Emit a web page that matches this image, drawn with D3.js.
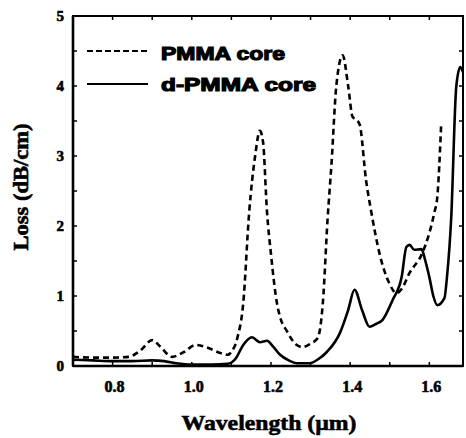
<!DOCTYPE html>
<html><head><meta charset="utf-8">
<script src="https://cdn.jsdelivr.net/npm/d3@7"></script>
<style>body{margin:0;background:#fff}svg{display:block}</style>
</head><body>
<svg id="c" width="466" height="438"></svg>
<script>
// ---- data ----
const pmmaWl   = [0.70,0.75,0.80,0.84,0.87,0.90,0.92,0.95,0.98,1.01,1.04,1.07,1.09,1.10,1.115,1.13,1.145,1.16,1.172,1.18,1.19,1.20,1.215,1.223,1.24,1.265,1.28,1.30,1.318,1.331,1.343,1.353,1.365,1.381,1.395,1.406,1.415,1.424,1.44,1.454,1.474,1.499,1.517,1.53,1.55,1.582,1.60,1.613,1.62,1.63];
const pmmaLoss = [0.13,0.12,0.12,0.13,0.22,0.37,0.28,0.13,0.20,0.30,0.26,0.19,0.16,0.20,0.40,0.90,2.20,3.00,3.36,3.20,2.20,1.60,0.90,0.70,0.50,0.30,0.27,0.32,0.40,0.90,2.10,2.90,4.00,4.44,4.00,3.56,3.52,3.45,2.66,2.18,1.61,1.18,1.04,1.10,1.33,1.61,1.90,2.20,2.41,3.47];
const dWl   = [0.70,0.75,0.80,0.85,0.90,0.93,0.96,1.00,1.05,1.09,1.11,1.13,1.152,1.172,1.19,1.205,1.223,1.245,1.265,1.298,1.32,1.341,1.374,1.395,1.411,1.43,1.449,1.465,1.482,1.507,1.53,1.542,1.55,1.562,1.58,1.59,1.60,1.61,1.62,1.638,1.645,1.655,1.668,1.678,1.685];
const dLoss = [0.09,0.08,0.07,0.07,0.08,0.07,0.04,0.02,0.02,0.03,0.10,0.30,0.41,0.34,0.36,0.28,0.16,0.08,0.04,0.04,0.10,0.20,0.47,0.80,1.09,0.80,0.56,0.60,0.66,0.94,1.27,1.70,1.73,1.66,1.67,1.50,1.27,1.00,0.87,0.97,1.30,2.09,3.99,4.27,4.20];
const xTickVals = [0.8,1.0,1.2,1.4,1.6];
const xTickLabels = ["0.8","1.0","1.2","1.4","1.6"];
const yTickVals = [0,1,2,3,4,5];
const legendLabels = ["PMMA core","d-PMMA core"];

const svg = d3.select("#c");
const x = d3.scaleLinear().domain([0.7,1.685]).range([73,463]);
const y = d3.scaleLinear().domain([0,5]).range([366,16]);
const serif = "'Liberation Serif','Times New Roman',serif";
const sans = "'Liberation Sans',Arial,sans-serif";

// frame
const g = svg.append("g");
g.append("rect").attr("x",x(0.7)).attr("y",y(5)).attr("width",x(1.685)-x(0.7)).attr("height",y(0)-y(5))
  .attr("fill","none").attr("stroke","#000").attr("stroke-width",2);
g.append("line").attr("x1",x(0.7)).attr("x2",x(0.7)).attr("y1",y(5)).attr("y2",y(0)).attr("stroke","#000").attr("stroke-width",2.6);
g.append("line").attr("x1",x(0.7)).attr("x2",x(1.685)).attr("y1",y(0)).attr("y2",y(0)).attr("stroke","#000").attr("stroke-width",2.6);

// ticks
const xMinor = d3.range(0.8,1.69,0.1);
const yMinor = d3.range(0.5,5,0.5);
xMinor.forEach(v=>{
  g.append("line").attr("x1",x(v)).attr("x2",x(v)).attr("y1",y(0)).attr("y2",y(0)-4).attr("stroke","#000").attr("stroke-width",1.5);
  g.append("line").attr("x1",x(v)).attr("x2",x(v)).attr("y1",y(5)).attr("y2",y(5)+4).attr("stroke","#000").attr("stroke-width",1.5);
});
yMinor.forEach(v=>{
  g.append("line").attr("x1",x(0.7)).attr("x2",x(0.7)+4).attr("y1",y(v)).attr("y2",y(v)).attr("stroke","#000").attr("stroke-width",1.5);
  g.append("line").attr("x1",x(1.685)).attr("x2",x(1.685)-4).attr("y1",y(v)).attr("y2",y(v)).attr("stroke","#000").attr("stroke-width",1.5);
});

// tick labels
g.selectAll(".xl").data(xTickVals).enter().append("text")
  .attr("x",(d)=>x(d)+2).attr("y",392).attr("text-anchor","middle")
  .attr("font-family",serif).attr("font-weight","bold").attr("font-size",16)
  .attr("stroke","#000").attr("stroke-width",0.6)
  .text((d,i)=>xTickLabels[i]);
g.selectAll(".yl").data(yTickVals).enter().append("text")
  .attr("x",64).attr("y",d=>y(d)+5).attr("text-anchor","end")
  .attr("font-family",serif).attr("font-weight","bold").attr("font-size",15)
  .attr("stroke","#000").attr("stroke-width",0.6)
  .text(d=>d);

// axis titles
g.append("text").attr("x",269).attr("y",430).attr("text-anchor","middle")
  .attr("font-family",serif).attr("font-weight","bold").attr("font-size",22)
  .attr("stroke","#000").attr("stroke-width",0.6)
  .attr("textLength",175).attr("lengthAdjust","spacingAndGlyphs")
  .text("Wavelength (\u00b5m)");
g.append("text").attr("transform","translate(28,187) rotate(-90)").attr("text-anchor","middle")
  .attr("font-family",serif).attr("font-weight","bold").attr("font-size",20)
  .attr("stroke","#000").attr("stroke-width",0.6)
  .attr("textLength",127).attr("lengthAdjust","spacingAndGlyphs")
  .text("Loss (dB/cm)");

// curves
const line = d3.line().x(d=>x(d[0])).y(d=>y(d[1])).curve(d3.curveMonotoneX);
g.append("path").datum(pmmaWl.map((w,i)=>[w,pmmaLoss[i]])).attr("d",line)
  .attr("fill","none").attr("stroke","#000").attr("stroke-width",2.6).attr("stroke-dasharray","6,4");
g.append("path").datum(dWl.map((w,i)=>[w,dLoss[i]])).attr("d",line)
  .attr("fill","none").attr("stroke","#000").attr("stroke-width",2.6);

// legend
const lg = g.append("g");
const lgY = [51,84];
const lgB = [60,91];
const lgW = [124,155];
legendLabels.forEach((t,i)=>{
  lg.append("line").attr("x1",87).attr("x2",148).attr("y1",lgY[i]).attr("y2",lgY[i])
    .attr("stroke","#000").attr("stroke-width",2).attr("stroke-dasharray",i===0?"6,3":null);
  lg.append("text").attr("x",161).attr("y",lgB[i])
    .attr("font-family",sans).attr("font-weight","bold").attr("font-size",19)
    .attr("stroke","#000").attr("stroke-width",1.2)
    .attr("textLength",lgW[i]).attr("lengthAdjust","spacingAndGlyphs").text(t);
});
</script>
</body></html>
